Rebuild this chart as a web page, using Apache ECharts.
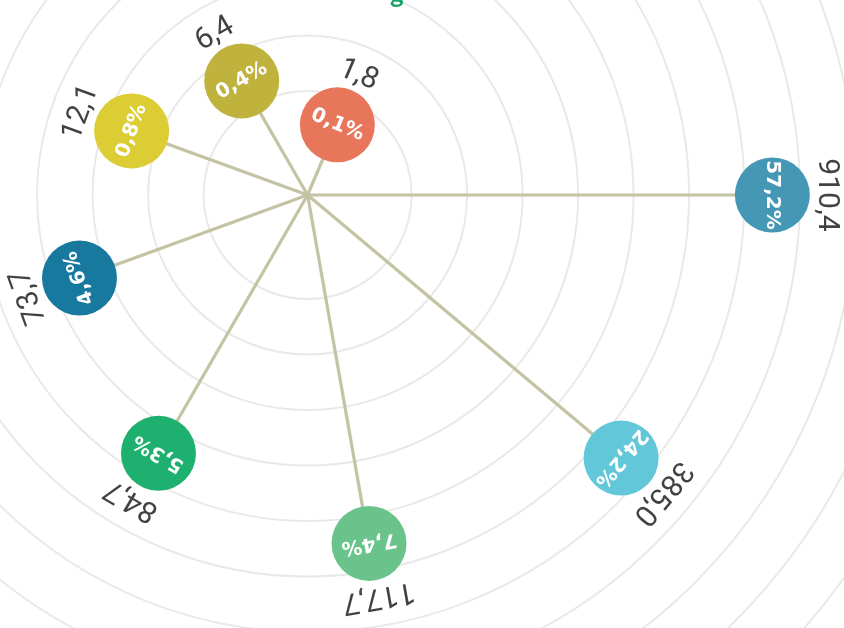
<!DOCTYPE html>
<html><head><meta charset="utf-8">
<script src="https://cdn.jsdelivr.net/npm/echarts@6/dist/echarts.min.js"></script>
<style>html,body{margin:0;padding:0;background:#fff}#c{width:844px;height:628px}</style>
</head><body><div id="c"></div>
<script>
// Data (sorted from largest to smallest)
const values = [910.4, 385.0, 117.7, 84.7, 73.7, 12.1, 6.4, 1.8];
const shares = [57.2, 24.2, 7.4, 5.3, 4.6, 0.8, 0.4, 0.1];
const angles = [0, 40, 80, 120, 160, 200, 240, 293];
const colors = ['#4498b5', '#62c8d9', '#69c38b', '#1db06f', '#17799e', '#dccd34', '#bfb23d', '#e8765a'];
const titleText = 'g';

const STEP = 55.5, INNER = 48.5, MAXV = 12;
const n = values.length;
const fmt = v => v.toFixed(1).replace('.', ',');
const radial = values.map((v, i) => (n - i) - 0.5);   // rank position between rings

const spokeData = values.map((v, i) => [radial[i], angles[i]]);

const bubbleData = values.map((v, i) => ({
  value: [radial[i], angles[i]],
  itemStyle: { color: colors[i] },
  label: { rotate: -(angles[i] + 90) }
}));
const outerData = values.map((v, i) => ({
  value: [radial[i] + 0.97, angles[i]],
  label: { rotate: -(angles[i] + 90) }
}));

const ringColors = ['rgba(0,0,0,0)'].concat(new Array(MAXV + 2).fill('#e9e9e9'));

const chart = echarts.init(document.getElementById('c'), null, { renderer: 'canvas' });
chart.setOption({
  animation: false,
  backgroundColor: '#ffffff',
  title: {
    text: titleText, left: 385, top: -23,
    textStyle: { color: '#1aa36a', fontSize: 26, fontWeight: 'bold', fontFamily: 'Lato' }
  },
  polar: { center: [307.6, 195], radius: [INNER, INNER + MAXV * STEP] },
  angleAxis: {
    type: 'value', min: 0, max: 360, startAngle: 0, clockwise: true,
    axisLine: { show: false }, axisTick: { show: false }, axisLabel: { show: false }, splitLine: { show: false }
  },
  radiusAxis: {
    type: 'value', min: 0, max: MAXV, interval: 1,
    axisLine: { show: false }, axisTick: { show: false }, axisLabel: { show: false },
    splitLine: { show: true, lineStyle: { color: ringColors, width: 2 } }
  },
  series: [
    {
      type: 'custom', coordinateSystem: 'polar', data: spokeData, z: 2, clip: false,
      renderItem: (params, api) => {
        const p = api.coord([api.value(0), api.value(1)]);
        const cs = params.coordSys;
        return {
          type: 'line',
          shape: { x1: cs.cx, y1: cs.cy, x2: p[0], y2: p[1] },
          style: { stroke: '#c4c3a3', lineWidth: 3.2 }
        };
      }
    },
    {
      type: 'scatter', coordinateSystem: 'polar', data: bubbleData, symbolSize: 75, z: 3,
      itemStyle: { opacity: 1 },
      label: {
        show: true, position: 'inside', color: '#ffffff',
        fontFamily: "'DejaVu Sans'", fontWeight: 'bold', fontSize: 20,
        formatter: p => fmt(shares[p.dataIndex]) + '%'
      }
    },
    {
      type: 'scatter', coordinateSystem: 'polar', data: outerData, symbolSize: 1,
      itemStyle: { color: 'rgba(0,0,0,0)' }, z: 4,
      label: {
        show: true, position: 'inside', color: '#111111',
        fontFamily: "'Liberation Sans Narrow', 'Roboto', sans-serif", fontSize: 30,
        formatter: p => fmt(values[p.dataIndex])
      }
    }
  ]
});
</script>
</body></html>
